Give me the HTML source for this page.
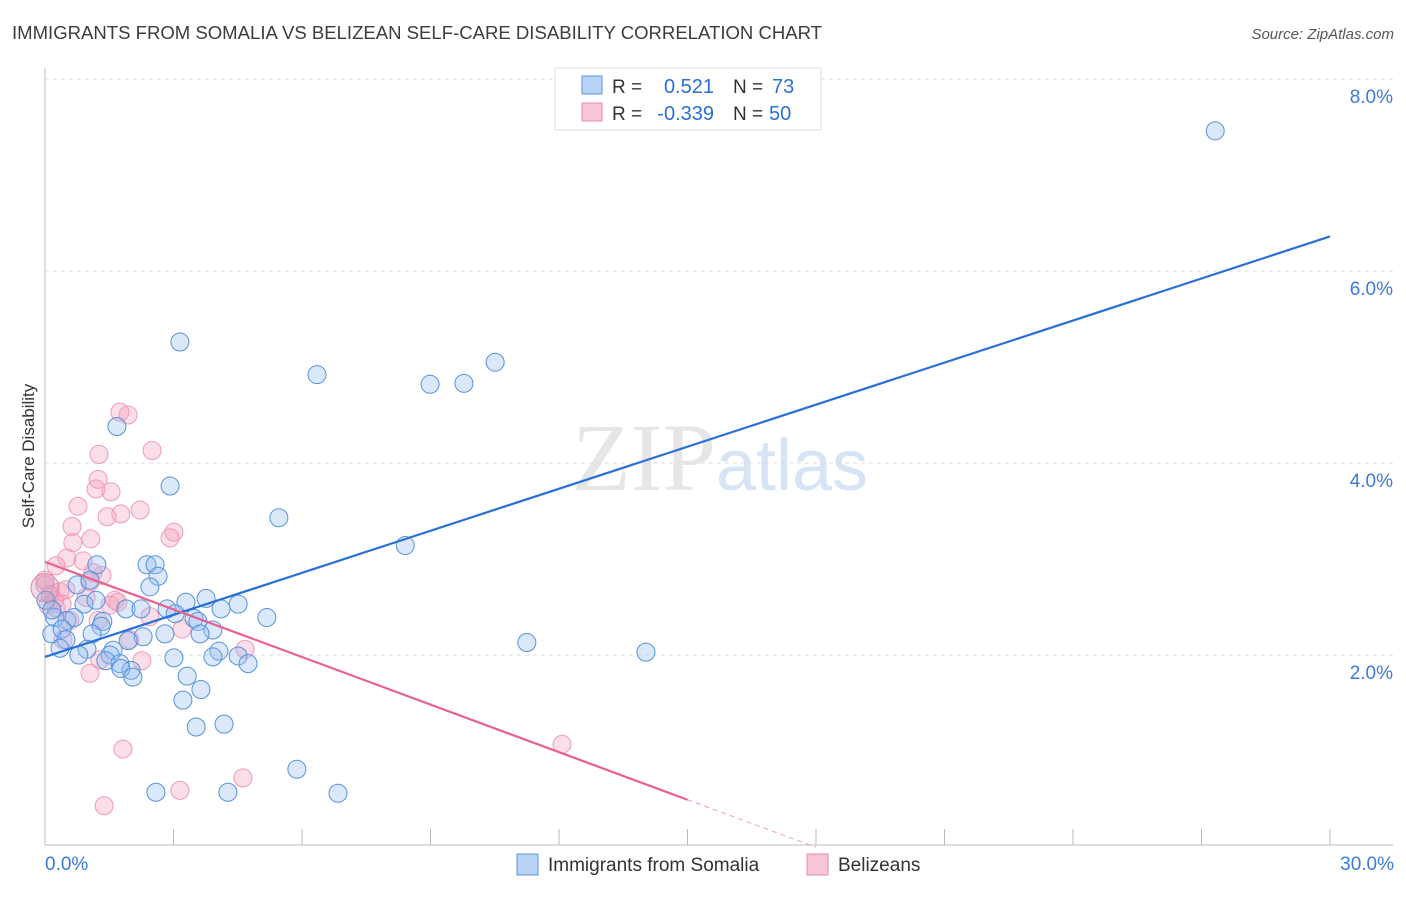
<!DOCTYPE html>
<html><head><meta charset="utf-8"><style>
body{margin:0;background:#fff;font-family:"Liberation Sans",sans-serif;}
</style></head><body>
<svg id="chart" width="1406" height="892" xmlns="http://www.w3.org/2000/svg" font-family="Liberation Sans, sans-serif">
<text x="12" y="39" font-size="18" fill="#3c3c3c" textLength="810" lengthAdjust="spacingAndGlyphs">IMMIGRANTS FROM SOMALIA VS BELIZEAN SELF-CARE DISABILITY CORRELATION CHART</text>
<text x="1394" y="39" font-size="15" fill="#555" text-anchor="end" font-style="italic">Source: ZipAtlas.com</text>
<text x="720" y="490" font-size="96" fill="#e6e6e6" text-anchor="middle" font-family="Liberation Serif, serif">ZIP<tspan fill="#d6e4f5" font-family="Liberation Sans, sans-serif" font-size="72">atlas</tspan></text>
<g id="grid"></g><g id="axes"></g><g id="pts"></g><g id="lines"></g>
<text transform="translate(34,456) rotate(-90)" font-size="17" fill="#333" text-anchor="middle">Self-Care Disability</text>
<g>
<rect x="555" y="68" width="266" height="62" fill="#fff" stroke="#ddd"/>
<rect x="582" y="76" width="20" height="18" fill="#b8d3f5" stroke="#5a95dc"/>
<rect x="582" y="103" width="20" height="18" fill="#f8c6d6" stroke="#e88aa8"/>
<text x="612" y="93" font-size="19" fill="#333">R =</text>
<text x="714" y="93" font-size="20" fill="#2a6fd6" text-anchor="end">0.521</text>
<text x="733" y="93" font-size="19" fill="#333">N =</text>
<text x="772" y="93" font-size="20" fill="#2a6fd6">73</text>
<text x="612" y="120" font-size="19" fill="#333">R =</text>
<text x="714" y="120" font-size="20" fill="#2a6fd6" text-anchor="end">-0.339</text>
<text x="733" y="120" font-size="19" fill="#333">N =</text>
<text x="769" y="120" font-size="20" fill="#2a6fd6">50</text>
</g>
<g>
<rect x="517" y="854" width="21" height="21" fill="#b8d3f5" stroke="#5a95dc"/>
<text x="548" y="871" font-size="19" fill="#333">Immigrants from Somalia</text>
<rect x="807" y="854" width="21" height="21" fill="#f8c6d6" stroke="#e88aa8"/>
<text x="838" y="871" font-size="19" fill="#333">Belizeans</text>
</g>
</svg>
<script>
const somaliaX=[27.32,3.15,6.35,10.51,8.99,9.78,1.68,2.92,5.46,8.41,2.38,2.57,2.64,1.21,2.45,0.75,1.05,3.76,3.29,4.51,4.11,1.89,2.24,2.85,0.91,1.19,5.18,3.04,3.48,3.57,0.23,0.51,0.68,1.35,1.31,3.92,3.62,2.80,2.29,1.94,1.10,0.16,0.40,0.49,0.35,0.98,11.25,14.03,1.59,1.52,4.06,3.92,4.51,4.74,3.01,1.42,1.75,2.01,1.77,2.05,3.32,3.64,3.22,3.53,4.18,5.88,2.59,4.27,6.84,0.79,0.02,0.16];
const somaliaY=[7.46,5.26,4.92,5.05,4.82,4.83,4.38,3.76,3.43,3.14,2.94,2.94,2.82,2.94,2.71,2.73,2.78,2.59,2.55,2.53,2.48,2.48,2.48,2.48,2.53,2.57,2.39,2.43,2.38,2.35,2.39,2.36,2.39,2.35,2.30,2.26,2.22,2.22,2.19,2.15,2.22,2.22,2.27,2.16,2.07,2.06,2.13,2.03,2.05,2.00,2.04,1.98,1.99,1.91,1.97,1.94,1.91,1.84,1.86,1.77,1.78,1.64,1.53,1.25,1.28,0.81,0.57,0.57,0.56,2.00,2.57,2.47];
const belizeX=[1.75,1.94,2.50,1.26,1.24,1.19,1.54,0.77,1.45,1.77,2.22,0.63,0.65,1.07,3.01,2.92,0.51,0.89,0.26,1.33,1.05,0,0.12,0.23,0.35,0.49,0.07,1.63,1.70,2.45,3.20,1.24,4.67,2.26,1.05,1.82,12.07,4.62,3.15,1.38,0.26,0.40,0.58,0.96,0.42,1.28,1.98,1.12,1.52,0];
const belizeY=[4.53,4.50,4.13,4.09,3.83,3.73,3.70,3.55,3.44,3.47,3.51,3.34,3.17,3.21,3.28,3.22,3.01,2.98,2.93,2.83,2.76,2.73,2.63,2.57,2.66,2.68,2.52,2.57,2.55,2.40,2.27,2.36,2.06,1.94,1.81,1.02,1.07,0.72,0.59,0.43,2.49,2.53,2.36,2.60,2.16,1.95,2.16,2.86,2.52,2.78];
const yTicks=[2,4,6,8];
const xTickLabels=["0.0%","30.0%"];
const somaliaTrend=[1.98,6.36];
const belizeTrend=[2.97,-0.003];
const NS="http://www.w3.org/2000/svg";
const X=v=>45+v*42.833, Y=v=>847-v*96;
function mk(p,t,a){const e=document.createElementNS(NS,t);for(const k in a)e.setAttribute(k,a[k]);p.appendChild(e);return e;}
const grid=document.getElementById('grid'),axes=document.getElementById('axes'),pts=document.getElementById('pts'),lines=document.getElementById('lines');
yTicks.forEach(v=>{
 const l=mk(grid,'line',{x1:45,x2:1393,y1:Y(v),y2:Y(v),stroke:'#ddd','stroke-dasharray':'4,4'});
 
 
 const t=mk(grid,'text',{x:1393,y:Y(v)+24,'font-size':19,fill:'#3a7bd5','text-anchor':'end'});
 t.textContent=v.toFixed(1)+'%';
 
 
});
mk(axes,'line',{x1:45,x2:45,y1:68,y2:845,stroke:'#bbb'});
mk(axes,'line',{x1:45,x2:1393,y1:845,y2:845,stroke:'#bbb'});
for(let i=0;i<=10;i++){const x=X(i*3);const t=mk(axes,'line',{x1:x,x2:x,y1:829,y2:845,stroke:'#bbb'});
 
 }
[[0,'start',45],[30,'end',1394]].forEach((d,i)=>{const t=mk(axes,'text',{x:d[2],y:870,'font-size':19,fill:'#3a7bd5','text-anchor':d[1]});t.textContent=xTickLabels[i];
 
 });
function dots(xs,ys,fill,stroke,name){xs.forEach((x,i)=>{const c=mk(pts,'circle',{cx:X(x),cy:Y(ys[i]),r:9,fill:fill,stroke:stroke,'stroke-width':1});
 
 });}
dots(belizeX,belizeY,'rgba(244,160,190,0.35)','#ef9ab8','belizean-point');
dots(somaliaX,somaliaY,'rgba(150,190,240,0.35)','#5592dc','somalia-point');
const big=mk(pts,'circle',{cx:X(0),cy:Y(2.7),r:14,fill:'rgba(200,150,180,0.35)',stroke:'#d58aa8'});


const bl=mk(lines,'line',{x1:X(0),y1:Y(somaliaTrend[0]),x2:X(30),y2:Y(somaliaTrend[1]),stroke:'#2a6fd6','stroke-width':2.2});


const xe=15.0, xz=18;
const py=x=>belizeTrend[0]+(belizeTrend[1]-belizeTrend[0])*x/xz;
const pl=mk(lines,'line',{x1:X(0),y1:Y(py(0)),x2:X(xe),y2:Y(py(xe)),stroke:'#e8608e','stroke-width':2.2});


const pd=mk(lines,'line',{x1:X(xe),y1:Y(py(xe)),x2:X(xz),y2:Y(py(xz)),stroke:'#e8a0b8','stroke-width':1,'stroke-dasharray':'5,4'});


</script>
</body></html>
